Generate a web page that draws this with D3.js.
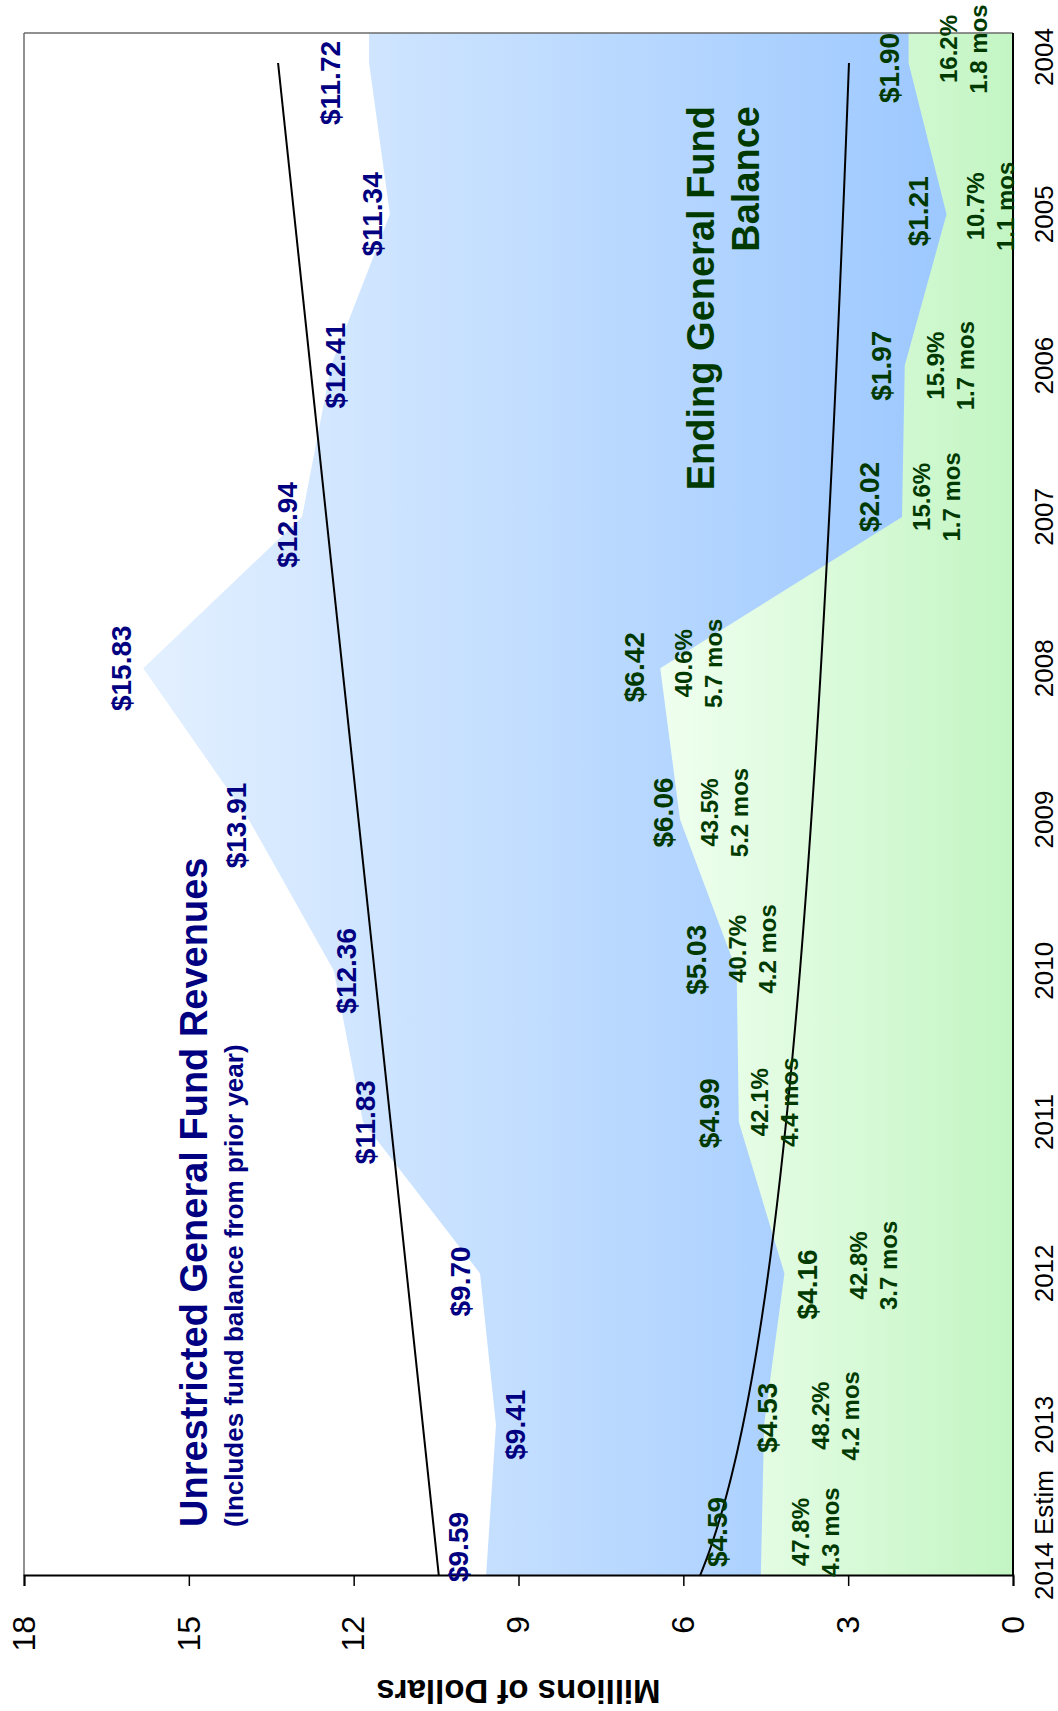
<!DOCTYPE html>
<html>
<head>
<meta charset="utf-8">
<script src="https://cdn.jsdelivr.net/npm/d3@7"></script>
<style>
  body { margin: 0; background: #fff; }
  svg { display: block; }
  text { font-family: "Liberation Sans", Arial, sans-serif; }
</style>
</head>
<body>
<svg id="chart" width="1058" height="1711"></svg>
<script>
// Fiscal years, estimate year first (left end of the landscape chart)
const years = ["2014 Estim", "2013", "2012", "2011", "2010", "2009", "2008", "2007", "2006", "2005", "2004"];
// Unrestricted general fund revenues, millions of dollars
const revenues = [9.59, 9.41, 9.70, 11.83, 12.36, 13.91, 15.83, 12.94, 12.41, 11.34, 11.72];
// Ending general fund balance, millions of dollars
const balances = [4.59, 4.53, 4.16, 4.99, 5.03, 6.06, 6.42, 2.02, 1.97, 1.21, 1.90];
// Balance as share of revenues, and months of operations it covers
const balancePct = ["47.8%", "48.2%", "42.8%", "42.1%", "40.7%", "43.5%", "40.6%", "15.6%", "15.9%", "10.7%", "16.2%"];
const balanceMonths = ["4.3 mos", "4.2 mos", "3.7 mos", "4.4 mos", "4.2 mos", "5.2 mos", "5.7 mos", "1.7 mos", "1.7 mos", "1.1 mos", "1.8 mos"];
// Value axis ticks
const valueTicks = [0, 3, 6, 9, 12, 15, 18];

// Label nudges (px, landscape frame): along the year axis / along the value axis
const revShiftX = [29, 0, -8, 0, 0, -6, 0, -8, 0, 0, -20];
const revShiftY = [-28, 19, -20, 2, 12, -13, -22, -15, 4, -18, -39];
const balShiftX = [44, 7, -11, 9, 11, 7, 1, 20, 0, 3, -5];
const balShiftY = [-44, 3, 22, -30, -41, -17, -26, -33, -24, -29, -20];
const pctShiftX = [44, 9, 8, 20, 22, 7, 5, 20, 0, 8, 14];
const pctShiftY = [55, 71, 89, 36, 16, 44, 38, 34, 46, 44, 55];

const NAVY = "#000080";
const DKGREEN = "#003a00";

// The chart is laid out landscape (1711 x 1058) and turned a quarter turn onto the page.
const W = 1711, H = 1058;
const svg = d3.select("#chart");
const g = svg.append("g").attr("transform", `translate(0,${W}) rotate(-90)`);

const plot = { left: 135, right: 1678, top: 24, bottom: 1013 };

const x = d3.scalePoint().domain(years).range([plot.left, 1648]);
const y = d3.scaleLinear().domain([0, 18]).range([plot.bottom, plot.top]);

// gradients
const defs = svg.append("defs");
const blueGrad = defs.append("linearGradient").attr("id", "blueFill")
  .attr("x1", 0).attr("y1", 0).attr("x2", 0).attr("y2", 1);
blueGrad.append("stop").attr("offset", "0%").attr("stop-color", "#e3f0ff");
blueGrad.append("stop").attr("offset", "100%").attr("stop-color", "#97c5ff");
const greenGrad = defs.append("linearGradient").attr("id", "greenFill")
  .attr("x1", 0).attr("y1", 0).attr("x2", 0).attr("y2", 1);
greenGrad.append("stop").attr("offset", "0%").attr("stop-color", "#f0fff0");
greenGrad.append("stop").attr("offset", "100%").attr("stop-color", "#c3f5c3");

const rows = years.map((yr, i) => ({ yr, X: x(yr), rev: revenues[i], bal: balances[i] }));
// the fill runs on to the plot edge past the last year
const fillRows = rows.concat([{ X: plot.right, rev: revenues[revenues.length - 1], bal: balances[balances.length - 1] }]);

const revArea = d3.area().x(d => d.X).y0(y(0)).y1(d => y(d.rev));
const balArea = d3.area().x(d => d.X).y0(y(0)).y1(d => y(d.bal));

g.append("path").datum(fillRows).attr("d", revArea).attr("fill", "url(#blueFill)");
g.append("path").datum(fillRows).attr("d", balArea).attr("fill", "url(#greenFill)");

// plot frame
g.append("line").attr("x1", plot.left).attr("x2", plot.right).attr("y1", plot.top).attr("y2", plot.top)
  .attr("stroke", "#6b6b6b").attr("stroke-width", 1.5);
g.append("line").attr("x1", plot.right).attr("x2", plot.right).attr("y1", plot.top).attr("y2", plot.bottom)
  .attr("stroke", "#6b6b6b").attr("stroke-width", 1.5);

// trend lines
const n = years.length;
const idx = d3.range(n);
// linear fit of revenues
const mi = d3.mean(idx), mr = d3.mean(revenues);
const slope = d3.sum(idx, i => (i - mi) * (revenues[i] - mr)) / d3.sum(idx, i => (i - mi) ** 2);
const icpt = mr - slope * mi;
const step = x.step();
g.append("line")
  .attr("x1", x(years[0])).attr("y1", y(icpt))
  .attr("x2", x(years[n - 1])).attr("y2", y(icpt + slope * (n - 1)))
  .attr("stroke", "#000").attr("stroke-width", 2);
// logarithmic fit of balances
const lx = idx.map(i => Math.log(i + 1));
const mlx = d3.mean(lx), mb = d3.mean(balances);
const bLog = d3.sum(idx, i => (lx[i] - mlx) * (balances[i] - mb)) / d3.sum(idx, i => (lx[i] - mlx) ** 2);
const aLog = mb - bLog * mlx;
const tSamples = d3.range(0, (n - 1) * 20 + 1).map(k => k / 20);
g.append("path")
  .datum(tSamples)
  .attr("d", d3.line().x(t => x(years[0]) + t * step).y(t => y(aLog + bLog * Math.log(t + 1))).curve(d3.curveLinear))
  .attr("fill", "none").attr("stroke", "#000").attr("stroke-width", 2);

// axes
const yAxis = g.append("g").attr("transform", `translate(${plot.left},0)`)
  .call(d3.axisLeft(y).tickValues(valueTicks).tickSize(10).tickPadding(30).tickFormat(d3.format("d")));
yAxis.select(".domain").attr("stroke", "#000").attr("stroke-width", 2);
yAxis.selectAll(".tick line").attr("stroke", "#000").attr("stroke-width", 1.5);
yAxis.selectAll(".tick text").attr("font-size", 32).attr("fill", "#000")
  .attr("font-family", "'Liberation Sans', Arial, sans-serif");

g.append("line").attr("x1", plot.left).attr("x2", plot.right).attr("y1", plot.bottom).attr("y2", plot.bottom)
  .attr("stroke", "#000").attr("stroke-width", 2);

// year labels
const catShift = [41, 0, 0, 0, 0, 0, 0, 0, 0, 0, 6];
g.selectAll("text.year").data(years).join("text")
  .attr("class", "year")
  .attr("x", (d, i) => x(d) + catShift[i])
  .attr("y", 1053)
  .attr("text-anchor", "middle")
  .attr("font-size", 26)
  .attr("fill", "#000")
  .text(d => d);

// value axis title
g.append("text")
  .attr("transform", `translate(31,${(plot.top + plot.bottom) / 2}) rotate(-90)`)
  .attr("text-anchor", "middle")
  .attr("font-size", 33).attr("font-weight", "bold").attr("fill", "#000")
  .text("Millions of Dollars");

// revenue value labels
g.selectAll("text.rev").data(rows).join("text")
  .attr("class", "rev")
  .attr("x", (d, i) => d.X + revShiftX[i])
  .attr("y", (d, i) => y(d.rev) + revShiftY[i])
  .attr("dy", "0.36em")
  .attr("text-anchor", "middle")
  .attr("font-size", 28).attr("font-weight", "bold").attr("fill", NAVY)
  .text(d => "$" + d.rev.toFixed(2));

// balance value labels
g.selectAll("text.bal").data(rows).join("text")
  .attr("class", "bal")
  .attr("x", (d, i) => d.X + balShiftX[i])
  .attr("y", (d, i) => y(d.bal) + balShiftY[i])
  .attr("dy", "0.36em")
  .attr("text-anchor", "middle")
  .attr("font-size", 28).attr("font-weight", "bold").attr("fill", DKGREEN)
  .text(d => "$" + d.bal.toFixed(2));

// share / months labels
const pct = g.selectAll("text.pct").data(rows).join("text")
  .attr("class", "pct")
  .attr("text-anchor", "middle")
  .attr("font-size", 24).attr("font-weight", "bold").attr("fill", DKGREEN);
pct.append("tspan")
  .attr("x", (d, i) => d.X + pctShiftX[i])
  .attr("y", (d, i) => y(d.bal) + pctShiftY[i] - 15)
  .attr("dy", "0.36em")
  .text((d, i) => balancePct[i]);
pct.append("tspan")
  .attr("x", (d, i) => d.X + pctShiftX[i])
  .attr("y", (d, i) => y(d.bal) + pctShiftY[i] + 15)
  .attr("dy", "0.36em")
  .text((d, i) => balanceMonths[i]);

// series titles
const revTitle = g.append("text").attr("fill", NAVY).attr("font-weight", "bold");
revTitle.append("tspan").attr("x", 184).attr("y", 207).attr("font-size", 38)
  .text("Unrestricted General Fund Revenues");
revTitle.append("tspan").attr("x", 184).attr("y", 243).attr("font-size", 26)
  .text("(Includes fund balance from prior year)");

const balTitle = g.append("text").attr("fill", DKGREEN).attr("font-weight", "bold")
  .attr("text-anchor", "end").attr("font-size", 38);
balTitle.append("tspan").attr("x", 1605).attr("y", 714).text("Ending General Fund");
balTitle.append("tspan").attr("x", 1605).attr("y", 759).text("Balance");
</script>
</body>
</html>
